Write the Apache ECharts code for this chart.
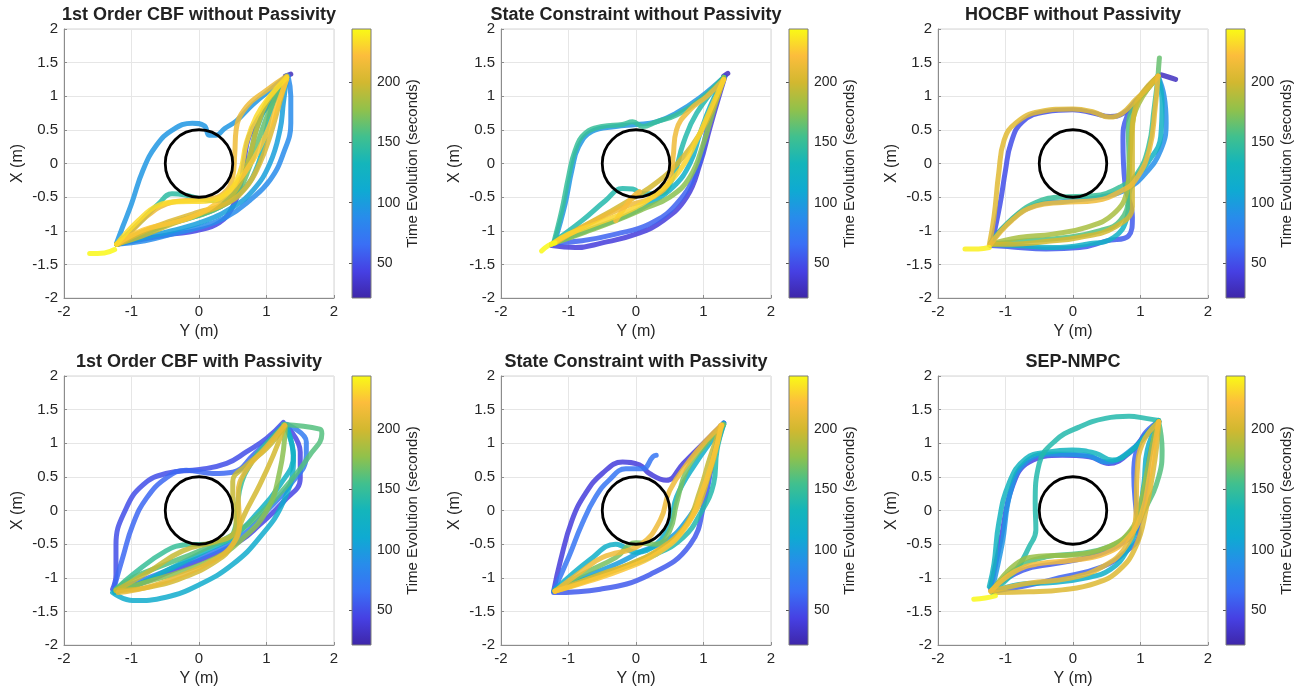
<!DOCTYPE html>
<html>
<head>
<meta charset="utf-8">
<title>Trajectories</title>
<script src="https://cdn.jsdelivr.net/npm/echarts@6/dist/echarts.min.js"></script>
<style>
html, body { margin: 0; background: #fff; }
#main { width: 1304px; height: 689px; }
</style>
</head>
<body>
<div id="main"></div>
<script>
// panel titles, in row order
var titles = ['1st Order CBF without Passivity', 'State Constraint without Passivity', 'HOCBF without Passivity',
              '1st Order CBF with Passivity', 'State Constraint with Passivity', 'SEP-NMPC'];
var xTicks = [-2, 2, 1];      // min, max, step (Y axis, horizontal)
var yTicks = [-2, 2, 0.5];    // min, max, step (X axis, vertical)
var timeRange = [21, 244];
var cbarTicks = [50, 100, 150, 200];
var obstacle = [[0, 0, 0.5]];  // centre Y, centre X, radius

// each path: [time (s), [[Y, X], ...]]
var cbfNoPass = [
  [28, [[1.28, 1.3], [1.36, 1.33]]],
  [45, [[-1.22, -1.2], [-0.8, -1.12], [-0.4, -1.05], [-0.05, -1.0], [0.3, -0.88], [0.5, -0.64], [0.62, -0.3], [0.67, 0.05], [0.74, 0.4], [0.9, 0.7], [1.1, 0.95], [1.32, 1.3]]],
  [88, [[1.32, 1.3], [1.36, 1.0], [1.36, 0.6], [1.25, 0.15], [1.05, -0.25], [0.75, -0.55], [0.4, -0.8], [0.0, -0.95], [-0.4, -1.05], [-0.8, -1.15], [-1.22, -1.2]]],
  [95, [[-1.22, -1.18], [-1.13, -0.94], [-1.0, -0.6], [-0.83, -0.1], [-0.63, 0.27], [-0.39, 0.5], [-0.1, 0.6], [0.08, 0.56], [0.15, 0.42], [0.25, 0.42], [0.38, 0.52], [0.55, 0.63], [0.8, 0.88], [1.1, 1.13], [1.3, 1.3]]],
  [102, [[1.3, 1.28], [1.25, 0.9], [1.2, 0.5], [1.05, 0.0], [0.8, -0.4], [0.5, -0.65], [0.1, -0.85], [-0.4, -1.0], [-0.9, -1.12], [-1.22, -1.2]]],
  [130, [[1.3, 1.3], [1.1, 0.9], [1.0, 0.5], [0.88, 0.0], [0.65, -0.4], [0.3, -0.65], [-0.1, -0.8], [-0.5, -0.92], [-0.9, -1.08], [-1.22, -1.2]]],
  [145, [[-1.22, -1.2], [-0.9, -0.9], [-0.6, -0.6], [-0.4, -0.45], [-0.2, -0.47], [0.0, -0.52], [0.2, -0.55], [0.45, -0.5], [0.6, -0.3], [0.75, 0.1], [0.85, 0.5], [1.0, 0.85], [1.3, 1.28]]],
  [165, [[-1.22, -1.2], [-0.8, -1.0], [-0.3, -0.85], [0.2, -0.7], [0.55, -0.45], [0.75, -0.05], [0.9, 0.4], [1.05, 0.8], [1.3, 1.28]]],
  [195, [[1.3, 1.28], [1.0, 0.9], [0.85, 0.5], [0.75, 0.1], [0.6, -0.3], [0.35, -0.6], [0.0, -0.75], [-0.4, -0.9], [-0.85, -1.08], [-1.22, -1.2]]],
  [205, [[1.3, 1.28], [1.18, 0.85], [1.05, 0.4], [0.9, 0.0], [0.7, -0.35], [0.4, -0.6], [0.0, -0.72], [-0.4, -0.85], [-0.8, -1.0], [-1.2, -1.2]]],
  [215, [[-1.22, -1.2], [-1.08, -1.09], [-0.78, -0.79], [-0.48, -0.6], [-0.19, -0.55], [0.11, -0.53], [0.36, -0.45], [0.5, -0.2], [0.53, 0.15], [0.55, 0.5], [0.7, 0.84], [1.0, 1.09], [1.3, 1.3]]],
  [225, [[-1.22, -1.2], [-0.83, -0.99], [-0.43, -0.89], [-0.09, -0.79], [0.26, -0.59], [0.55, -0.3], [0.8, 0.05], [1.0, 0.45], [1.15, 0.84], [1.3, 1.25]]],
  [232, [[-1.22, -1.2], [-0.9, -0.85], [-0.6, -0.62], [-0.3, -0.57], [0.1, -0.56], [0.4, -0.45], [0.6, -0.15], [0.7, 0.3], [0.85, 0.7], [1.05, 1.0], [1.3, 1.28]]],
  [243, [[-1.62, -1.34], [-1.4, -1.33], [-1.25, -1.28]]]
];

var scNoPass = [
  [28, [[1.3, 1.3], [1.36, 1.34]]],
  [40, [[-1.25, -1.22], [-0.9, -1.25], [-0.5, -1.18], [0.0, -1.05], [0.4, -0.85], [0.75, -0.5], [0.95, 0.0], [1.1, 0.55], [1.32, 1.3]]],
  [60, [[-1.2, -1.18], [-0.8, -1.15], [-0.3, -1.05], [0.2, -0.9], [0.6, -0.6], [0.9, -0.1], [1.05, 0.5], [1.15, 0.9], [1.3, 1.28]]],
  [95, [[-1.2, -1.15], [-1.05, -0.6], [-0.95, -0.1], [-0.85, 0.25], [-0.65, 0.48], [-0.3, 0.55], [0.0, 0.58], [0.3, 0.62], [0.6, 0.75], [0.95, 0.98], [1.3, 1.28]]],
  [120, [[1.3, 1.28], [1.1, 0.85], [0.95, 0.45], [0.8, 0.0], [0.55, -0.35], [0.2, -0.6], [-0.2, -0.8], [-0.6, -0.95], [-1.0, -1.1], [-1.25, -1.2]]],
  [140, [[-1.2, -1.15], [-0.8, -0.85], [-0.45, -0.55], [-0.2, -0.37], [-0.05, -0.38], [0.1, -0.45], [0.35, -0.45], [0.55, -0.2], [0.7, 0.3], [0.9, 0.75], [1.3, 1.28]]],
  [150, [[-1.22, -1.18], [-1.1, -0.7], [-1.0, -0.2], [-0.9, 0.2], [-0.75, 0.45], [-0.5, 0.55], [-0.2, 0.58], [-0.05, 0.62], [0.1, 0.55], [0.3, 0.62], [0.6, 0.72], [0.95, 0.95], [1.3, 1.28]]],
  [175, [[1.3, 1.28], [1.15, 0.8], [1.0, 0.3], [0.8, -0.2], [0.5, -0.5], [0.1, -0.68], [-0.3, -0.85], [-0.75, -1.02], [-1.2, -1.18]]],
  [200, [[-1.25, -1.2], [-0.9, -1.0], [-0.5, -0.78], [-0.1, -0.55], [0.35, -0.25], [0.7, 0.1], [0.95, 0.45], [1.15, 0.85], [1.3, 1.25]]],
  [215, [[-1.2, -1.18], [-0.8, -0.95], [-0.4, -0.75], [-0.1, -0.62], [0.25, -0.5], [0.5, -0.25], [0.55, 0.1], [0.6, 0.5], [0.8, 0.8], [1.05, 1.0], [1.3, 1.25]]],
  [220, [[-0.3, -0.85], [-0.2, -0.7], [-0.05, -0.5], [0.05, -0.42]]],
  [230, [[1.3, 1.25], [1.1, 0.8], [0.9, 0.35], [0.65, -0.1], [0.3, -0.45], [-0.1, -0.7], [-0.6, -0.9], [-1.0, -1.05], [-1.25, -1.2]]],
  [243, [[-1.4, -1.3], [-1.3, -1.22], [-1.2, -1.18]]]
];

var hocbfNoPass = [
  [30, [[1.3, 1.32], [1.4, 1.29], [1.52, 1.25]]],
  [50, [[-1.2, -1.18], [-1.08, -0.6], [-1.0, -0.1], [-0.92, 0.3], [-0.75, 0.62], [-0.4, 0.77], [0.0, 0.8], [0.3, 0.75], [0.55, 0.7], [0.75, 0.75], [0.95, 0.95], [1.26, 1.3]]],
  [55, [[1.26, 1.3], [1.0, 1.0], [0.8, 0.7], [0.74, 0.35], [0.77, -0.3], [0.88, -0.8], [0.82, -1.08], [0.5, -1.15], [0.1, -1.25], [-0.4, -1.27], [-0.9, -1.24], [-1.22, -1.22]]],
  [90, [[1.26, 1.3], [1.35, 1.0], [1.38, 0.6], [1.3, 0.2], [1.08, -0.14], [0.78, -0.39], [0.4, -0.5], [-0.1, -0.56], [-0.6, -0.64], [-1.0, -0.92], [-1.22, -1.18]]],
  [125, [[1.26, 1.3], [1.32, 0.9], [1.3, 0.4], [1.1, 0.0], [0.85, -0.35], [0.8, -0.8], [0.6, -1.1], [0.2, -1.2], [-0.3, -1.25], [-0.8, -1.22], [-1.22, -1.2]]],
  [150, [[-1.22, -1.18], [-0.9, -0.82], [-0.55, -0.58], [-0.2, -0.5], [0.3, -0.48], [0.7, -0.35], [0.95, -0.15], [1.12, 0.25], [1.2, 0.8], [1.26, 1.3]]],
  [160, [[-1.22, -1.2], [-0.7, -1.15], [-0.1, -1.1], [0.4, -1.0], [0.7, -0.85], [0.82, -0.5], [0.83, 0.0], [0.82, 0.5], [0.9, 0.85], [1.1, 1.1], [1.26, 1.3]]],
  [165, [[1.26, 1.3], [1.27, 1.45], [1.28, 1.57]]],
  [185, [[-1.22, -1.2], [-0.8, -1.1], [-0.3, -1.05], [0.2, -0.95], [0.6, -0.75], [0.8, -0.4], [0.85, 0.2], [0.9, 0.7], [1.26, 1.3]]],
  [200, [[1.26, 1.3], [0.93, 0.85], [0.88, 0.35], [0.88, -0.2], [0.88, -0.64], [0.63, -0.94], [0.09, -1.1], [-0.4, -1.16], [-0.9, -1.2], [-1.22, -1.2]]],
  [207, [[-1.24, -1.21], [-1.17, -0.79], [-1.1, -0.14], [-1.02, 0.35], [-0.85, 0.6], [-0.5, 0.77], [0.0, 0.81], [0.29, 0.77], [0.53, 0.69], [0.73, 0.75], [0.93, 0.95], [1.13, 1.14], [1.26, 1.3]]],
  [215, [[-1.22, -1.2], [-0.9, -0.84], [-0.55, -0.63], [-0.16, -0.58], [0.34, -0.55], [0.73, -0.4], [0.93, -0.24], [1.13, 0.2], [1.22, 0.85], [1.26, 1.3]]],
  [240, [[-1.6, -1.27], [-1.4, -1.27], [-1.24, -1.25]]]
];

var cbfPass = [
  [45, [[1.27, 1.28], [1.5, 0.87], [1.5, 0.48], [1.25, 0.13], [0.9, -0.21], [0.6, -0.46], [0.11, -0.7], [-0.4, -0.9], [-0.9, -1.1], [-1.25, -1.2]]],
  [50, [[-1.28, -1.17], [-1.23, -0.95], [-1.23, -0.51], [-1.08, 0.03], [-0.83, 0.38], [-0.49, 0.55], [0.01, 0.61], [0.41, 0.7], [0.7, 0.87], [1.0, 1.07], [1.25, 1.31]]],
  [62, [[-1.25, -1.12], [-1.13, -0.7], [-0.98, -0.21], [-0.78, 0.18], [-0.49, 0.48], [-0.19, 0.6], [0.21, 0.55], [0.5, 0.57], [0.8, 0.82], [1.25, 1.28]]],
  [75, [[1.3, 1.28], [1.59, 1.02], [1.59, 0.82], [1.35, 0.38], [1.0, -0.01], [0.6, -0.41], [0.2, -0.62], [-0.3, -0.82], [-0.8, -1.02], [-1.25, -1.18]]],
  [115, [[-1.28, -1.22], [-0.98, -1.34], [-0.49, -1.29], [0.01, -1.1], [0.5, -0.8], [0.9, -0.4], [1.25, 0.13], [1.4, 0.75], [1.3, 1.25]]],
  [125, [[1.27, 1.28], [1.4, 0.82], [1.2, 0.38], [0.8, -0.11], [0.5, -0.4], [0.1, -0.6], [-0.4, -0.85], [-0.9, -1.1], [-1.25, -1.22]]],
  [150, [[-1.23, -1.17], [-0.98, -0.95], [-0.49, -0.6], [-0.19, -0.51], [0.1, -0.5], [0.4, -0.45], [0.55, -0.2], [0.6, 0.3], [0.8, 0.75], [1.05, 1.05], [1.27, 1.28]]],
  [160, [[1.25, 1.28], [1.79, 1.21], [1.82, 1.14], [1.64, 0.82], [1.35, 0.43], [0.95, -0.01], [0.5, -0.36], [0.01, -0.6], [-0.49, -0.8], [-0.98, -1.0], [-1.23, -1.17]]],
  [175, [[-1.23, -1.19], [-0.73, -1.05], [-0.24, -0.9], [0.26, -0.7], [0.6, -0.46], [1.0, -0.01], [1.2, 0.6], [1.28, 1.25]]],
  [195, [[-1.23, -1.19], [-0.73, -0.9], [-0.24, -0.6], [0.26, -0.46], [0.5, -0.36], [0.55, -0.16], [0.5, 0.23], [0.5, 0.43], [0.7, 0.67], [1.0, 0.92], [1.27, 1.26]]],
  [200, [[1.27, 1.26], [1.1, 0.82], [0.9, 0.38], [0.65, -0.11], [0.5, -0.51], [0.26, -0.75], [-0.24, -1.0], [-0.73, -1.14], [-1.18, -1.19]]],
  [210, [[-1.2, -1.22], [-0.8, -1.15], [-0.3, -0.98], [0.2, -0.75], [0.5, -0.5], [0.6, -0.2], [0.58, 0.25], [0.7, 0.6], [1.0, 0.95], [1.27, 1.27]]]
];

var scPass = [
  [40, [[-1.22, -1.2], [-1.12, -0.75], [-0.95, -0.15], [-0.75, 0.25], [-0.5, 0.55], [-0.2, 0.72], [0.05, 0.68], [0.2, 0.55], [0.45, 0.45], [0.7, 0.7], [1.0, 1.0], [1.3, 1.3]]],
  [55, [[-1.22, -1.22], [-0.53, -1.17], [0.21, -0.95], [0.8, -0.51], [1.02, 0.16], [1.17, 0.9], [1.3, 1.3]]],
  [70, [[-1.2, -1.15], [-1.0, -0.7], [-0.8, -0.2], [-0.6, 0.2], [-0.4, 0.45], [-0.15, 0.62], [0.1, 0.62], [0.25, 0.8], [0.3, 0.82]]],
  [100, [[1.3, 1.3], [1.15, 0.8], [1.0, 0.3], [0.75, -0.15], [0.45, -0.45], [0.1, -0.6], [-0.3, -0.8], [-0.8, -1.0], [-1.22, -1.2]]],
  [120, [[-1.2, -1.18], [-0.68, -0.73], [-0.3, -0.5], [0.0, -0.62], [0.3, -0.5], [0.5, -0.2], [0.6, 0.2], [0.85, 0.65], [1.3, 1.28]]],
  [140, [[1.3, 1.28], [1.2, 0.9], [1.15, 0.4], [0.95, -0.05], [0.7, -0.4], [0.3, -0.65], [-0.2, -0.85], [-0.7, -1.0], [-1.2, -1.18]]],
  [170, [[-1.2, -1.2], [-0.8, -0.95], [-0.3, -0.7], [0.0, -0.48], [0.3, -0.5], [0.5, -0.3], [0.6, 0.1], [0.75, 0.6], [1.0, 0.95], [1.3, 1.28]]],
  [195, [[1.27, 1.27], [1.1, 0.8], [0.95, 0.3], [0.75, -0.2], [0.4, -0.55], [-0.1, -0.8], [-0.6, -1.0], [-1.2, -1.2]]],
  [205, [[-1.2, -1.2], [-0.53, -0.95], [0.21, -0.66], [0.8, -0.14], [1.1, 0.6], [1.25, 1.26]]],
  [215, [[-1.2, -1.2], [-0.8, -0.9], [-0.5, -0.7], [0.06, -0.51], [0.36, -0.14], [0.5, 0.3], [0.8, 0.75], [1.05, 1.05], [1.27, 1.27]]],
  [225, [[-1.2, -1.2], [-0.7, -1.05], [-0.2, -0.88], [0.3, -0.65], [0.7, -0.3], [0.95, 0.2], [1.15, 0.8], [1.27, 1.27]]]
];

var sepNmpc = [
  [45, [[-1.22, -1.15], [-1.07, -0.44], [-0.9, 0.35], [-0.65, 0.72], [-0.16, 0.82], [0.24, 0.8], [0.53, 0.7], [0.83, 0.85], [1.05, 1.1], [1.27, 1.32]]],
  [55, [[-1.22, -1.18], [-0.75, -0.89], [-0.26, -0.79], [0.24, -0.69], [0.63, -0.54], [0.93, -0.29], [1.08, 0.3], [1.13, 0.8], [1.27, 1.32]]],
  [60, [[1.27, 1.32], [1.03, 1.09], [0.9, 0.55], [0.93, 0.05], [0.98, -0.34], [0.8, -0.6], [0.4, -0.85], [-0.2, -1.0], [-0.7, -1.12], [-1.2, -1.2]]],
  [95, [[-1.2, -1.18], [-1.05, -0.5], [-0.92, 0.3], [-0.7, 0.72], [-0.3, 0.84], [0.2, 0.82], [0.5, 0.72], [0.8, 0.85], [1.27, 1.32]]],
  [120, [[-1.2, -1.22], [-0.8, -1.1], [-0.3, -1.07], [0.2, -1.0], [0.55, -0.88], [0.8, -0.6], [0.95, -0.2], [1.05, 0.4], [1.1, 0.9], [1.27, 1.32]]],
  [130, [[-1.24, -1.13], [-1.17, -0.79], [-1.1, -0.19], [-0.95, 0.4], [-0.7, 0.77], [-0.36, 0.87], [-0.01, 0.9], [0.34, 0.85], [0.58, 0.75], [0.88, 0.9], [1.08, 1.12], [1.27, 1.34]]],
  [140, [[-1.2, -1.2], [-0.85, -0.89], [-0.65, -0.54], [-0.55, -0.29], [-0.56, 0.1], [-0.5, 0.7], [-0.26, 1.04], [0.09, 1.24], [0.48, 1.37], [0.83, 1.4], [1.08, 1.37], [1.27, 1.34]]],
  [160, [[1.27, 1.32], [1.32, 0.9], [1.27, 0.5], [1.08, 0.05], [0.83, -0.34], [0.53, -0.54], [0.09, -0.64], [-0.4, -0.69], [-0.8, -0.84], [-1.2, -1.18]]],
  [180, [[-1.2, -1.2], [-0.85, -0.8], [-0.5, -0.68], [0.0, -0.66], [0.5, -0.55], [0.85, -0.3], [1.0, 0.1], [1.1, 0.6], [1.2, 1.1], [1.27, 1.32]]],
  [205, [[1.27, 1.32], [1.22, 0.8], [1.08, 0.0], [0.93, -0.54], [0.68, -0.89], [0.34, -1.08], [-0.16, -1.18], [-0.65, -1.21], [-1.15, -1.22]]],
  [210, [[-1.22, -1.2], [-0.65, -1.08], [-0.06, -1.01], [0.43, -0.84], [0.78, -0.54], [0.93, -0.09], [0.95, 0.55], [1.03, 1.0], [1.27, 1.32]]],
  [218, [[-1.22, -1.2], [-0.85, -0.9], [-0.5, -0.79], [-0.01, -0.74], [0.48, -0.64], [0.83, -0.39], [1.03, 0.0], [1.13, 0.5], [1.22, 1.04], [1.27, 1.32]]],
  [243, [[-1.47, -1.32], [-1.3, -1.3], [-1.15, -1.27]]]
];

var panels = [cbfNoPass, scNoPass, hocbfNoPass, cbfPass, scPass, sepNmpc];

// parula-like colour map
var parulaStops = ['#3e26a8', '#4640e3', '#3a6ff5', '#288ceb', '#0faad2', '#14b5bb',
                   '#41c08e', '#91c14b', '#d2b830', '#fcbd3c', '#f9fb15'];

function hexRgb(h) {
  return [parseInt(h.substr(1, 2), 16), parseInt(h.substr(3, 2), 16), parseInt(h.substr(5, 2), 16)];
}
function parula(t) {
  var f = (t - timeRange[0]) / (timeRange[1] - timeRange[0]);
  f = Math.max(0, Math.min(1, f)) * (parulaStops.length - 1);
  var i = Math.min(Math.floor(f), parulaStops.length - 2), k = f - i;
  var a = hexRgb(parulaStops[i]), b = hexRgb(parulaStops[i + 1]);
  return 'rgb(' + a.map(function(v, j) { return Math.round(v + (b[j] - v) * k); }).join(',') + ')';
}

var font = 'Liberation Sans, Arial, sans-serif';
var lefts = [64, 501, 938], tops = [29, 376];
var W = 270, H = 269;

var grid = [], xAxis = [], yAxis = [], series = [], title = [];

panels.forEach(function(paths, i) {
  var L = lefts[i % 3], T = tops[Math.floor(i / 3)];
  grid.push({ left: L, top: T, width: W, height: H, show: true, borderColor: '#d4d4d4', borderWidth: 1, backgroundColor: '#fff' });
  title.push({
    text: titles[i], left: L + W / 2, top: T - 23, textAlign: 'center', padding: 0,
    textStyle: { fontFamily: font, fontSize: 18, fontWeight: 'bold', color: '#222' }
  });
  xAxis.push({
    gridIndex: i, type: 'value', min: xTicks[0], max: xTicks[1], interval: xTicks[2],
    name: 'Y (m)', nameLocation: 'middle', nameGap: 26,
    nameTextStyle: { fontFamily: font, fontSize: 16, color: '#262626' },
    axisLine: { onZero: false, lineStyle: { color: '#8c8c8c' } },
    axisTick: { inside: true, length: 3, lineStyle: { color: '#8c8c8c' } },
    axisLabel: { margin: 6, fontFamily: font, fontSize: 15, color: '#262626' },
    splitLine: { lineStyle: { color: '#e6e6e6' } }
  });
  yAxis.push({
    gridIndex: i, type: 'value', min: yTicks[0], max: yTicks[1], interval: yTicks[2],
    name: 'X (m)', nameLocation: 'middle', nameGap: 38,
    nameTextStyle: { fontFamily: font, fontSize: 16, color: '#262626' },
    axisLine: { onZero: false, lineStyle: { color: '#8c8c8c' } },
    axisTick: { inside: true, length: 3, lineStyle: { color: '#8c8c8c' } },
    axisLabel: { margin: 6, fontFamily: font, fontSize: 15, color: '#262626' },
    splitLine: { lineStyle: { color: '#e6e6e6' } }
  });

  paths.slice().sort(function(a, b) { return a[0] - b[0]; }).forEach(function(p) {
    series.push({
      type: 'line', xAxisIndex: i, yAxisIndex: i, data: p[1], smooth: 0.45,
      symbol: 'none', silent: true, z: 2,
      lineStyle: { width: 5, color: parula(p[0]), opacity: 0.85, cap: 'round', join: 'round' }
    });
  });

  series.push({
    type: 'custom', xAxisIndex: i, yAxisIndex: i, data: obstacle, z: 5, silent: true,
    renderItem: function(params, api) {
      var c = api.coord([api.value(0), api.value(1)]);
      var r = api.size([api.value(2), 0])[0];
      return { type: 'circle', shape: { cx: c[0], cy: c[1], r: r },
               style: { fill: 'none', stroke: '#000', lineWidth: 2.8 } };
    }
  });
});

// colour bars
var gradStops = parulaStops.map(function(c, k) { return { offset: k / (parulaStops.length - 1), color: c }; });
panels.forEach(function(paths, i) {
  var g = 6 + i;
  var L = lefts[i % 3] + 288, T = tops[Math.floor(i / 3)];
  grid.push({ left: L, top: T, width: 19, height: H });
  xAxis.push({ gridIndex: g, type: 'value', min: 0, max: 1, show: false });
  yAxis.push({
    gridIndex: g, type: 'value', min: timeRange[0], max: timeRange[1], position: 'right',
    name: 'Time Evolution (seconds)', nameLocation: 'middle', nameGap: 34,
    nameTextStyle: { fontFamily: font, fontSize: 15, color: '#262626' },
    axisLine: { show: false },
    axisTick: { show: true, inside: true, length: 3, customValues: cbarTicks, lineStyle: { color: '#555' } },
    axisLabel: { margin: 6, customValues: cbarTicks, fontFamily: font, fontSize: 14, color: '#262626' },
    splitLine: { show: false }
  });
  series.push({
    type: 'custom', xAxisIndex: g, yAxisIndex: g, data: [timeRange], silent: true, z: 1,
    renderItem: function(params, api) {
      var p0 = api.coord([0, api.value(0)]), p1 = api.coord([1, api.value(1)]);
      return { type: 'rect', shape: { x: p0[0], y: p1[1], width: p1[0] - p0[0], height: p0[1] - p1[1] },
               style: { fill: new echarts.graphic.LinearGradient(0, 1, 0, 0, gradStops), stroke: '#7a7a7a', lineWidth: 1 } };
    }
  });
});

var chart = echarts.init(document.getElementById('main'));
chart.setOption({
  animation: false,
  backgroundColor: '#fff',
  title: title,
  grid: grid,
  xAxis: xAxis,
  yAxis: yAxis,
  series: series
});
window.addEventListener('resize', function() { chart.resize(); });
</script>
</body>
</html>
